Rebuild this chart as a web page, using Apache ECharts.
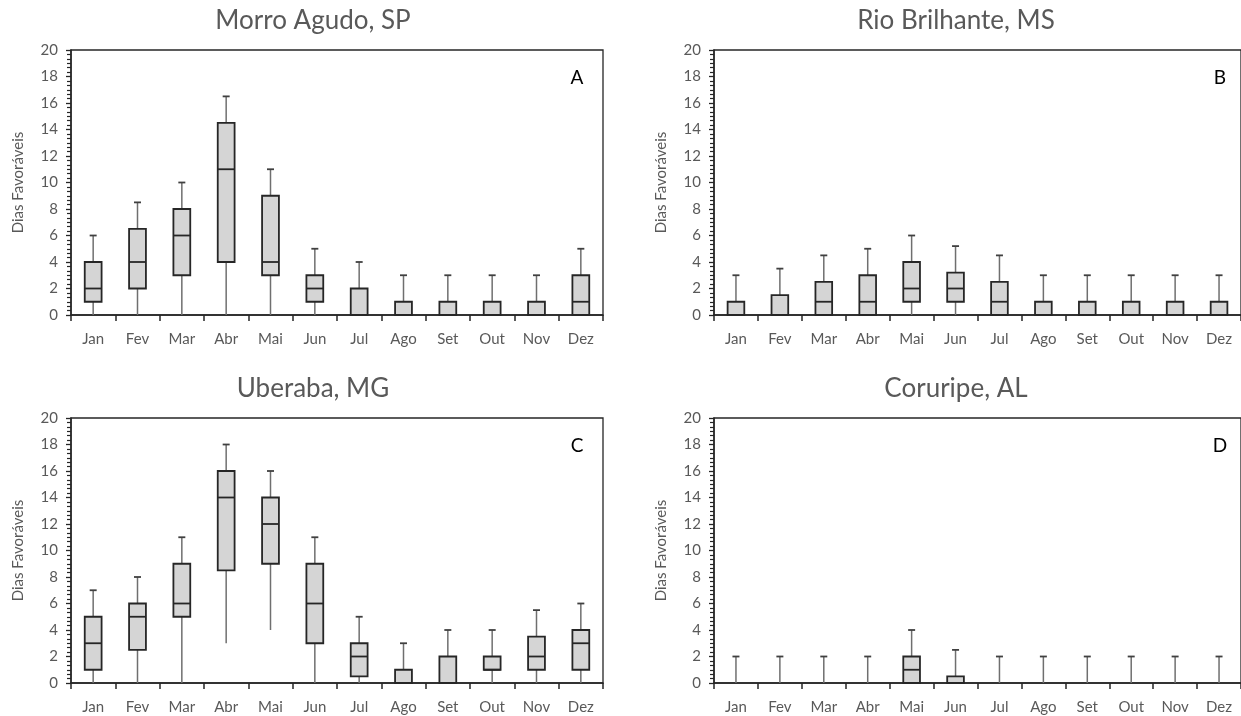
<!DOCTYPE html>
<html>
<head>
<meta charset="utf-8">
<script src="https://cdn.jsdelivr.net/npm/echarts@6/dist/echarts.min.js"></script>
<style>
html,body{margin:0;padding:0;background:#fff;}
#chart{width:1241px;height:716px;}
</style>
</head>
<body>
<div id="chart"></div>
<script>
// Categories and titles
const months = ['Jan','Fev','Mar','Abr','Mai','Jun','Jul','Ago','Set','Out','Nov','Dez'];
const titles = ['Morro Agudo, SP','Rio Brilhante, MS','Uberaba, MG','Coruripe, AL'];
const letters = ['A','B','C','D'];
const yTicks = [0,2,4,6,8,10,12,14,16,18,20];

// Panel A - Morro Agudo, SP
const A_min = [0,0,0,0,0,0,0,0,0,0,0,0];
const A_q1  = [1,2,3,4,3,1,0,0,0,0,0,0];
const A_med = [2,4,6,11,4,2,0,0,0,0,0,1];
const A_q3  = [4,6.5,8,14.5,9,3,2,1,1,1,1,3];
const A_max = [6,8.5,10,16.5,11,5,4,3,3,3,3,5];

// Panel B - Rio Brilhante, MS
const B_min = [0,0,0,0,0,0,0,0,0,0,0,0];
const B_q1  = [0,0,0,0,1,1,0,0,0,0,0,0];
const B_med = [0,0,1,1,2,2,1,0,0,0,0,0];
const B_q3  = [1,1.5,2.5,3,4,3.2,2.5,1,1,1,1,1];
const B_max = [3,3.5,4.5,5,6,5.2,4.5,3,3,3,3,3];

// Panel C - Uberaba, MG
const C_min = [0,0,0,3,4,0,0,0,0,0,0,0];
const C_q1  = [1,2.5,5,8.5,9,3,0.5,0,0,1,1,1];
const C_med = [3,5,6,14,12,6,2,0,0,1,2,3];
const C_q3  = [5,6,9,16,14,9,3,1,2,2,3.5,4];
const C_max = [7,8,11,18,16,11,5,3,4,4,5.5,6];

// Panel D - Coruripe, AL
const D_min = [0,0,0,0,0,0,0,0,0,0,0,0];
const D_q1  = [0,0,0,0,0,0,0,0,0,0,0,0];
const D_med = [0,0,0,0,1,0,0,0,0,0,0,0];
const D_q3  = [0,0,0,0,2,0.5,0,0,0,0,0,0];
const D_max = [2,2,2,2,4,2.5,2,2,2,2,2,2];

const panels = [
  [A_min,A_q1,A_med,A_q3,A_max],
  [B_min,B_q1,B_med,B_q3,B_max],
  [C_min,C_q1,C_med,C_q3,C_max],
  [D_min,D_q1,D_med,D_q3,D_max]
];

const gridPos = [
  {left:71, top:50, width:532, height:265},
  {left:714, top:50, width:532, height:265},
  {left:71, top:418, width:532, height:265},
  {left:714, top:418, width:532, height:265}
];

const FONT = 'Lato';
const GRAY = '#595959';

function renderItem(params, api) {
  const x = api.value(0);
  const lo = api.value(1), q1 = api.value(2), md = api.value(3), q3 = api.value(4), hi = api.value(5);
  const pLo = api.coord([x, lo]);
  const pQ1 = api.coord([x, q1]);
  const pMd = api.coord([x, md]);
  const pQ3 = api.coord([x, q3]);
  const pHi = api.coord([x, hi]);
  const bw = api.size([1, 0])[0] * 0.38;
  const cx = pQ1[0];
  const capW = 7;
  const wStyle = {stroke:'#6f6f6f', lineWidth:1.5};
  const bStyle = {stroke:'#262626', lineWidth:1.8};
  const children = [];
  if (lo < q1) {
    children.push({type:'line', shape:{x1:cx, y1:pLo[1], x2:cx, y2:pQ1[1]}, style:wStyle});
  }
  if (hi > q3) {
    children.push({type:'line', shape:{x1:cx, y1:pQ3[1], x2:cx, y2:pHi[1]}, style:wStyle});
    children.push({type:'line', shape:{x1:cx - capW/2, y1:pHi[1], x2:cx + capW/2, y2:pHi[1]}, style:{stroke:'#404040', lineWidth:1.8}});
  }
  if (q3 > q1) {
    children.push({type:'rect', shape:{x:cx - bw/2, y:pQ3[1], width:bw, height:pQ1[1]-pQ3[1]},
      style:{fill:'#d5d5d5', stroke:'#262626', lineWidth:1.8}});
    children.push({type:'line', shape:{x1:cx - bw/2, y1:pMd[1], x2:cx + bw/2, y2:pMd[1]}, style:bStyle});
  }
  return {type:'group', children:children};
}

const grids = [], xAxes = [], yAxes = [], series = [], graphics = [];
panels.forEach(function(p, i) {
  const g = gridPos[i];
  grids.push(Object.assign({show:true, borderColor:'#262626', borderWidth:1.3, backgroundColor:'transparent'}, g));
  xAxes.push({
    type:'category', gridIndex:i, data:months, boundaryGap:true,
    axisLine:{show:true, onZero:false, lineStyle:{color:'#262626', width:1.5}},
    axisTick:{show:true, alignWithLabel:false, inside:false, length:6, lineStyle:{color:'#262626', width:1.5}},
    axisLabel:{color:GRAY, fontSize:15, fontFamily:FONT, margin:17, interval:0},
    splitLine:{show:false}
  });
  yAxes.push({
    type:'value', gridIndex:i, min:0, max:20, interval:2,
    name:'Dias Favoráveis', nameLocation:'middle', nameGap:45, nameRotate:90,
    nameTextStyle:{color:GRAY, fontSize:15, fontFamily:FONT},
    axisLine:{show:true, lineStyle:{color:'#262626', width:1.5}},
    axisTick:{show:true, inside:false, length:5, lineStyle:{color:'#262626', width:1.3}},
    minorTick:{show:true, splitNumber:6, length:4, lineStyle:{color:'#262626', width:1.2}},
    axisLabel:{color:GRAY, fontSize:15, fontFamily:FONT, margin:13,
      formatter:function(v){ return yTicks.indexOf(v) >= 0 ? String(v) : ''; }},
    splitLine:{show:false}
  });
  const data = months.map(function(m, k) {
    return [k, p[0][k], p[1][k], p[2][k], p[3][k], p[4][k]];
  });
  series.push({
    type:'custom', xAxisIndex:i, yAxisIndex:i, renderItem:renderItem,
    encode:{x:0, y:[1,2,3,4,5]}, data:data, clip:false, silent:true
  });
  graphics.push({
    type:'text', x:g.left + g.width/2 - 24, y:g.top - 29,
    style:{text:titles[i], fill:GRAY, font:'26px ' + FONT, textAlign:'center', textVerticalAlign:'middle'}
  });
  graphics.push({
    type:'text', x:g.left + 506, y:g.top + 28,
    style:{text:letters[i], fill:'#000', font:'19px ' + FONT, textAlign:'center', textVerticalAlign:'middle'}
  });
});

const chart = echarts.init(document.getElementById('chart'), null, {renderer:'canvas'});
chart.setOption({
  animation:false,
  backgroundColor:'#ffffff',
  grid:grids, xAxis:xAxes, yAxis:yAxes, series:series, graphic:graphics
});
</script>
</body>
</html>
